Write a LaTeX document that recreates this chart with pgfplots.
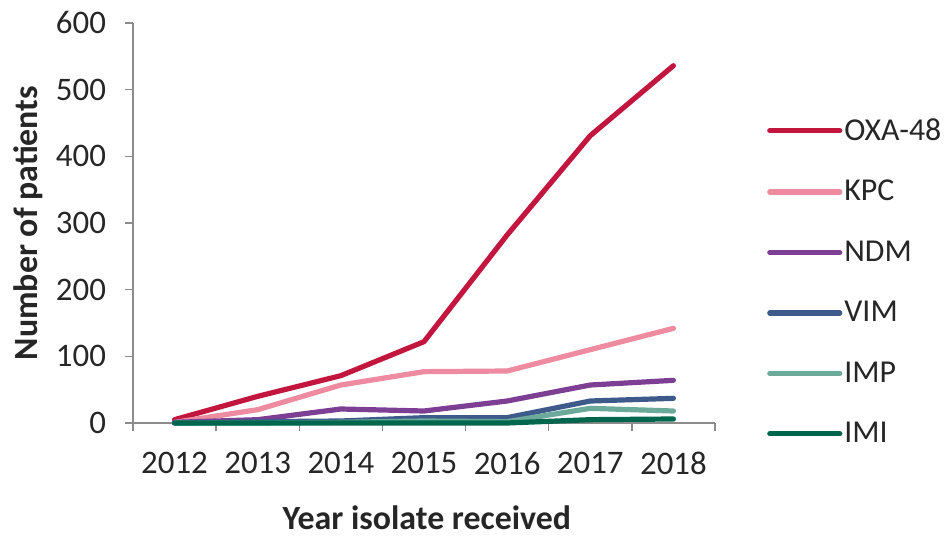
\documentclass[border=0pt]{standalone}
\usepackage{pgfplots}
\pgfplotsset{compat=1.18}
\usepackage{fontspec}
\setmainfont{Carlito}

\definecolor{oxa}{HTML}{C2163F}
\definecolor{kpc}{HTML}{EE8BA0}
\definecolor{ndm}{HTML}{7D3F93}
\definecolor{vim}{HTML}{3D5A8A}
\definecolor{imp}{HTML}{6BAA9A}
\definecolor{imi}{HTML}{00664E}
\definecolor{axisgray}{HTML}{8C8C8C}
\definecolor{txt}{HTML}{262626}

\begin{document}
\begin{tikzpicture}
\begin{axis}[
  scale only axis, width=291bp, height=200bp,
  xmin=-0.5, xmax=6.5, ymin=0, ymax=600,
  xtick={-0.5,0.5,...,6.5},
  x tick label as interval,
  xticklabels={2012,2013,2014,2015,2016,2017,2018},
  ytick={0,100,...,600},
  axis lines=left,
  axis line style={axisgray, line width=0.7bp, -},
  tick style={axisgray, line width=0.7bp},
  tick align=outside,
  major tick length=4bp,
  /pgf/number format/assume math mode=true,
  tick label style={font=\fontsize{16.5}{19}\selectfont, text=txt},
  xticklabel style={yshift=-7bp},
  yticklabel style={xshift=-6bp},
  label style={font=\bfseries\fontsize{17}{20}\selectfont, text=txt},
  xlabel={Year isolate received},
  xlabel style={at={(axis description cs:0.505,-0.2375)}, anchor=center},
  ylabel={Number of patients},
  ylabel style={at={(axis description cs:-0.18,0.5)}, anchor=center, rotate=0},
  clip=false,
  every axis plot/.append style={line width=2.6bp, line join=round, line cap=round},
  legend style={draw=none, fill=none, at={(axis description cs:1.089,0.3525)}, anchor=west,
    inner sep=0pt, row sep=16.5bp,
    font=\fontsize{16}{19}\selectfont, text=txt,
    nodes={inner sep=1pt}},
  legend cell align=left,
  legend image code/.code={\draw[#1, line cap=round] (0bp,0bp) -- (35bp,0bp);},
]
\addplot[oxa] coordinates {(0,5) (1,40) (2,71) (3,122) (4,282) (5,431) (6,536)};
\addplot[kpc] coordinates {(0,1) (1,20) (2,57) (3,77) (4,78) (5,110) (6,142)};
\addplot[ndm] coordinates {(0,1) (1,5) (2,21) (3,18) (4,33) (5,57) (6,64)};
\addplot[vim] coordinates {(0,0) (1,2) (2,3) (3,8) (4,8) (5,33) (6,37)};
\addplot[imp] coordinates {(0,0) (1,0) (2,1) (3,3) (4,2) (5,22) (6,18)};
\addplot[imi] coordinates {(0,0) (1,0) (2,0) (3,0) (4,0) (5,5) (6,6)};
\legend{OXA-48,KPC,NDM,VIM,IMP,IMI}
\coordinate (O) at (rel axis cs:0,0);
\end{axis}
\pgfresetboundingbox
\useasboundingbox ([shift={(-66.5bp,-56.5bp)}]O) rectangle ([shift={(409bp,211.5bp)}]O);
\end{tikzpicture}
\end{document}
